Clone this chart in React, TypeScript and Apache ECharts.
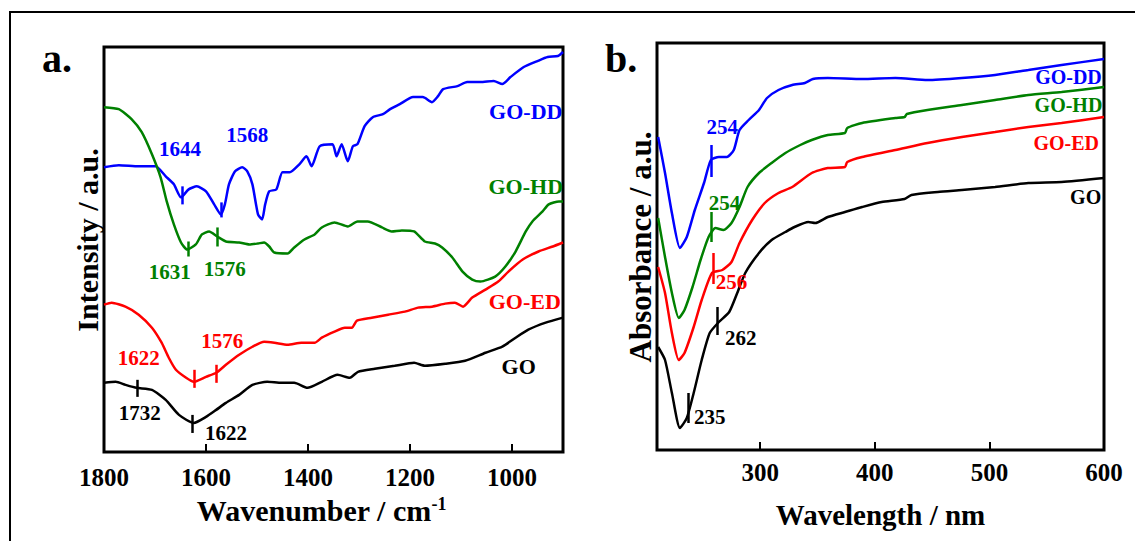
import React, { useEffect, useRef } from 'react';
import * as echarts from 'echarts';

const FONT = '"Liberation Serif", "Times New Roman", Times, serif';
const BLUE = '#0000ff';
const GREEN = '#008000';
const RED = '#ff0000';
const BLACK = '#000000';

// ---------- Panel a: FTIR (wavenumber, intensity a.u.) ----------
const ftirXTicks = [1800, 1600, 1400, 1200, 1000];

const ftirGODD: [number, number][] = [
  [1800, 284], [1771, 286], [1732, 285], [1699, 285], [1679, 275], [1663, 267], [1649, 254],
  [1634, 262], [1618, 265], [1600, 260], [1584, 247], [1571, 237], [1563, 247], [1555, 267],
  [1543, 280], [1529, 284], [1519, 280], [1509, 267], [1498, 237], [1490, 232], [1484, 247],
  [1476, 260], [1462, 262], [1450, 279], [1436, 279], [1417, 287], [1403, 295], [1393, 285],
  [1377, 305], [1352, 307], [1344, 295], [1334, 307], [1322, 290], [1312, 305], [1303, 307],
  [1289, 325], [1273, 334], [1253, 337], [1239, 342], [1220, 347], [1194, 354], [1175, 354],
  [1157, 349], [1145, 355], [1135, 362], [1107, 365], [1088, 369], [1062, 369], [1036, 370],
  [1019, 367], [1003, 374], [977, 384], [950, 390], [930, 394], [910, 395], [900, 399],
];

const ftirGOHD: [number, number][] = [
  [1800, 344], [1771, 342], [1746, 332], [1726, 319], [1706, 297], [1689, 274], [1677, 250],
  [1663, 227], [1649, 209], [1637, 202], [1620, 207], [1608, 217], [1594, 220], [1578, 215],
  [1561, 210], [1535, 209], [1515, 207], [1498, 208], [1486, 209], [1476, 205], [1466, 199],
  [1440, 198], [1427, 204], [1407, 212], [1387, 217], [1373, 224], [1348, 229], [1322, 225],
  [1303, 230], [1283, 230], [1255, 224], [1236, 220], [1216, 221], [1192, 220], [1171, 210],
  [1151, 208], [1137, 204], [1117, 194], [1097, 180], [1078, 172], [1062, 170], [1033, 175],
  [1013, 185], [993, 200], [973, 220], [960, 230], [940, 240], [928, 247], [908, 250], [900, 250],
];

const ftirGOED: [number, number][] = [
  [1800, 147], [1785, 149], [1758, 145], [1732, 137], [1706, 124], [1687, 109], [1673, 94],
  [1659, 82], [1639, 74], [1624, 70], [1600, 75], [1580, 79], [1561, 87], [1535, 97],
  [1509, 105], [1486, 110], [1466, 109], [1440, 107], [1413, 109], [1387, 109], [1373, 114],
  [1348, 120], [1328, 124], [1314, 124], [1304, 131], [1275, 134], [1243, 137], [1210, 140],
  [1184, 144], [1157, 145], [1131, 148], [1112, 149], [1096, 145], [1078, 154], [1052, 162],
  [1027, 170], [1007, 180], [979, 192], [948, 200], [920, 205], [900, 209],
];

const ftirGO: [number, number][] = [
  [1800, 69], [1777, 70], [1758, 67], [1736, 64], [1706, 62], [1679, 52], [1653, 37],
  [1624, 29], [1600, 35], [1580, 42], [1561, 49], [1535, 57], [1509, 67], [1480, 70],
  [1452, 69], [1427, 69], [1401, 64], [1373, 70], [1342, 77], [1318, 74], [1302, 80],
  [1269, 83], [1230, 86], [1192, 89], [1171, 86], [1131, 88], [1092, 91], [1052, 99],
  [1019, 105], [993, 114], [968, 122], [934, 129], [900, 134],
];

// annotations: [text, wavenumber, intensity]
const ftirTextGODD: [string, number, number][] = [['1644', 1651, 302], ['1568', 1519, 316], ['GO-DD', 973, 340]];
const ftirTextGOHD: [string, number, number][] = [['1631', 1671, 180], ['1576', 1563, 183], ['GO-HD', 973, 265]];
const ftirTextGOED: [string, number, number][] = [['1622', 1732, 94], ['1576', 1568, 111], ['GO-ED', 975, 150]];
const ftirTextGO: [string, number, number][] = [['1732', 1730, 39], ['1622', 1561, 19], ['GO', 987, 85]];
// peak markers: [wavenumber, from, to]
const ftirMarksGODD: [number, number, number][] = [[1647, 247, 265], [1570, 234, 249]];
const ftirMarksGOHD: [number, number, number][] = [[1635, 195, 210], [1578, 205, 224]];
const ftirMarksGOED: [number, number, number][] = [[1624, 64, 82], [1580, 69, 87]];
const ftirMarksGO: [number, number, number][] = [[1734, 55, 72], [1626, 19, 37]];

// ---------- Panel b: UV-vis (wavelength nm, absorbance a.u.) ----------
const uvXTicks = [300, 400, 500, 600];

const uvGODD: [number, number][] = [
  [211, 313], [217, 277], [223, 237], [230, 202], [236, 213], [243, 240], [251, 267], [257, 290],
  [264, 293], [271, 293], [277, 300], [282, 320], [290, 330], [299, 340], [306, 352], [316, 360],
  [328, 365], [339, 367], [346, 371], [359, 372], [389, 371], [418, 372], [446, 370], [476, 372],
  [505, 375], [534, 380], [563, 385], [600, 391],
];

const uvGOHD: [number, number][] = [
  [211, 232], [217, 193], [223, 157], [229, 132], [234, 140], [241, 163], [248, 190], [255, 213],
  [261, 222], [268, 220], [275, 227], [282, 243], [289, 263], [299, 277], [310, 287], [322, 297],
  [335, 305], [345, 310], [359, 315], [374, 317], [376, 322], [389, 327], [418, 332], [426, 333],
  [428, 336], [446, 340], [476, 345], [505, 350], [534, 355], [563, 358], [600, 363],
];

const uvGOED: [number, number][] = [
  [211, 183], [217, 157], [223, 117], [229, 90], [234, 97], [242, 123], [249, 150], [258, 177],
  [267, 180], [275, 188], [282, 207], [293, 230], [304, 247], [316, 257], [328, 263], [345, 277],
  [359, 282], [374, 283], [376, 288], [389, 293], [418, 300], [446, 307], [476, 313], [505, 318],
  [534, 323], [563, 327], [600, 333],
];

const uvGO: [number, number][] = [
  [211, 103], [217, 90], [223, 57], [230, 22], [236, 32], [242, 57], [249, 90], [256, 117],
  [264, 128], [273, 138], [280, 157], [287, 177], [299, 197], [310, 210], [322, 218], [330, 223],
  [342, 228], [348, 227], [359, 233], [374, 238], [389, 243], [406, 248], [426, 251], [432, 255],
  [455, 258], [476, 260], [505, 263], [534, 267], [563, 268], [600, 272],
];

const uvTextGODD: [string, number, number][] = [['254', 267, 323], ['GO-DD', 569, 373]];
const uvTextGOHD: [string, number, number][] = [['254', 269, 247], ['GO-HD', 569, 345]];
const uvTextGOED: [string, number, number][] = [['256', 275, 168], ['GO-ED', 567, 307]];
const uvTextGO: [string, number, number][] = [['262', 283, 112], ['235', 256, 33], ['GO', 584, 253]];
const uvMarksGODD: [number, number, number][] = [[257, 273, 305]];
const uvMarksGOHD: [number, number, number][] = [[257, 208, 238]];
const uvMarksGOED: [number, number, number][] = [[259, 166, 197]];
const uvMarksGO: [number, number, number][] = [[263, 115, 143], [237, 27, 57]];

function makeSeries(
  name: string,
  data: [number, number][],
  color: string,
  axis: number,
  texts: [string, number, number][],
  marks: [number, number, number][],
  nameSize: number
) {
  return {
    type: 'line',
    name: name + (axis === 0 ? ' (FTIR)' : ' (UV)'),
    data,
    xAxisIndex: axis,
    yAxisIndex: axis,
    showSymbol: false,
    symbol: 'none',
    smooth: 0.2,
    silent: true,
    lineStyle: { color, width: 2.5 },
    itemStyle: { color },
    markLine: {
      silent: true,
      symbol: ['none', 'none'],
      label: { show: false },
      lineStyle: { color, width: 2.5, type: 'solid' },
      emphasis: { disabled: true },
      data: marks.map(([x, a, b]) => [{ coord: [x, a] }, { coord: [x, b] }]),
    },
    markPoint: {
      silent: true,
      symbol: 'circle',
      symbolSize: 1,
      itemStyle: { color: 'rgba(0,0,0,0)' },
      data: texts.map(([t, x, y]) => ({
        coord: [x, y],
        value: t,
        label: {
          show: true,
          position: 'inside',
          formatter: t,
          color,
          fontFamily: FONT,
          fontWeight: 'bold',
          fontSize: t.startsWith('GO') ? nameSize : 21,
        },
      })),
    },
  };
}

const tickLabelStyle = {
  color: '#000',
  fontFamily: FONT,
  fontWeight: 'bold',
  fontSize: 25,
  margin: 12,
  formatter: (v: number) => String(v),
};

export default function App() {
  const ref = useRef<HTMLDivElement>(null);
  useEffect(() => {
    if (!ref.current) return;
    const chart = echarts.init(ref.current, null, { renderer: 'svg' });
    chart.setOption({
      animation: false,
      backgroundColor: '#ffffff',
      grid: [
        { left: 104, top: 47, width: 459, height: 405, show: true, borderColor: '#000', borderWidth: 3, backgroundColor: 'transparent' },
        { left: 657, top: 43, width: 447, height: 407, show: true, borderColor: '#000', borderWidth: 3, backgroundColor: 'transparent' },
      ],
      xAxis: [
        {
          type: 'value',
          gridIndex: 0,
          min: 900,
          max: 1800,
          inverse: true,
          axisLine: { show: false },
          splitLine: { show: false },
          axisTick: { show: true, inside: true, length: 8, lineStyle: { color: '#000', width: 2 }, customValues: ftirXTicks },
          axisLabel: { ...tickLabelStyle, margin: 13, customValues: ftirXTicks },
          name: 'Wavenumber / cm{sup|-1}',
          nameLocation: 'middle',
          nameGap: 43,
          nameTextStyle: {
            color: '#000',
            fontFamily: FONT,
            fontWeight: 'bold',
            fontSize: 30,
            padding: [0, 24, 0, 0],
            rich: { sup: { fontSize: 18, fontWeight: 'bold', fontFamily: FONT, color: '#000', verticalAlign: 'top' } },
          },
        },
        {
          type: 'value',
          gridIndex: 1,
          min: 210,
          max: 600,
          axisLine: { show: false },
          splitLine: { show: false },
          axisTick: { show: true, inside: true, length: 8, lineStyle: { color: '#000', width: 2 }, customValues: uvXTicks },
          axisLabel: { ...tickLabelStyle, margin: 10, customValues: uvXTicks },
          name: 'Wavelength / nm',
          nameLocation: 'middle',
          nameGap: 50,
          nameTextStyle: { color: '#000', fontFamily: FONT, fontWeight: 'bold', fontSize: 29 },
        },
      ],
      yAxis: [
        { type: 'value', gridIndex: 0, min: 0, max: 404, show: false },
        { type: 'value', gridIndex: 1, min: 0, max: 407, show: false },
      ],
      graphic: [
        { type: 'rect', silent: true, shape: { x: 10, y: 12, width: 1200, height: 600 }, style: { fill: 'none', stroke: '#000', lineWidth: 2 } },
        { type: 'text', x: 42, y: 58, style: { text: 'a.', fill: '#000', fontFamily: FONT, fontWeight: 'bold', fontSize: 40, textAlign: 'left', align: 'left', textVerticalAlign: 'middle', verticalAlign: 'middle' } },
        { type: 'text', x: 605, y: 58, style: { text: 'b.', fill: '#000', fontFamily: FONT, fontWeight: 'bold', fontSize: 40, textAlign: 'left', align: 'left', textVerticalAlign: 'middle', verticalAlign: 'middle' } },
        { type: 'text', x: 87, y: 240, rotation: Math.PI / 2, style: { text: 'Intensity / a.u.', fill: '#000', fontFamily: FONT, fontWeight: 'bold', fontSize: 30, textAlign: 'center', align: 'center', textVerticalAlign: 'middle', verticalAlign: 'middle' } },
        { type: 'text', x: 640, y: 247, rotation: Math.PI / 2, style: { text: 'Absorbance / a.u.', fill: '#000', fontFamily: FONT, fontWeight: 'bold', fontSize: 31, textAlign: 'center', align: 'center', textVerticalAlign: 'middle', verticalAlign: 'middle' } },
      ],
      series: [
        makeSeries('GO-DD', ftirGODD, BLUE, 0, ftirTextGODD, ftirMarksGODD, 22),
        makeSeries('GO-HD', ftirGOHD, GREEN, 0, ftirTextGOHD, ftirMarksGOHD, 22),
        makeSeries('GO-ED', ftirGOED, RED, 0, ftirTextGOED, ftirMarksGOED, 22),
        makeSeries('GO', ftirGO, BLACK, 0, ftirTextGO, ftirMarksGO, 22),
        makeSeries('GO-DD', uvGODD, BLUE, 1, uvTextGODD, uvMarksGODD, 20),
        makeSeries('GO-HD', uvGOHD, GREEN, 1, uvTextGOHD, uvMarksGOHD, 20),
        makeSeries('GO-ED', uvGOED, RED, 1, uvTextGOED, uvMarksGOED, 20),
        makeSeries('GO', uvGO, BLACK, 1, uvTextGO, uvMarksGO, 20),
      ],
    });
    return () => chart.dispose();
  }, []);
  return <div ref={ref} style={{ position: 'absolute', left: 0, top: 0, width: 1135, height: 541 }} />;
}
